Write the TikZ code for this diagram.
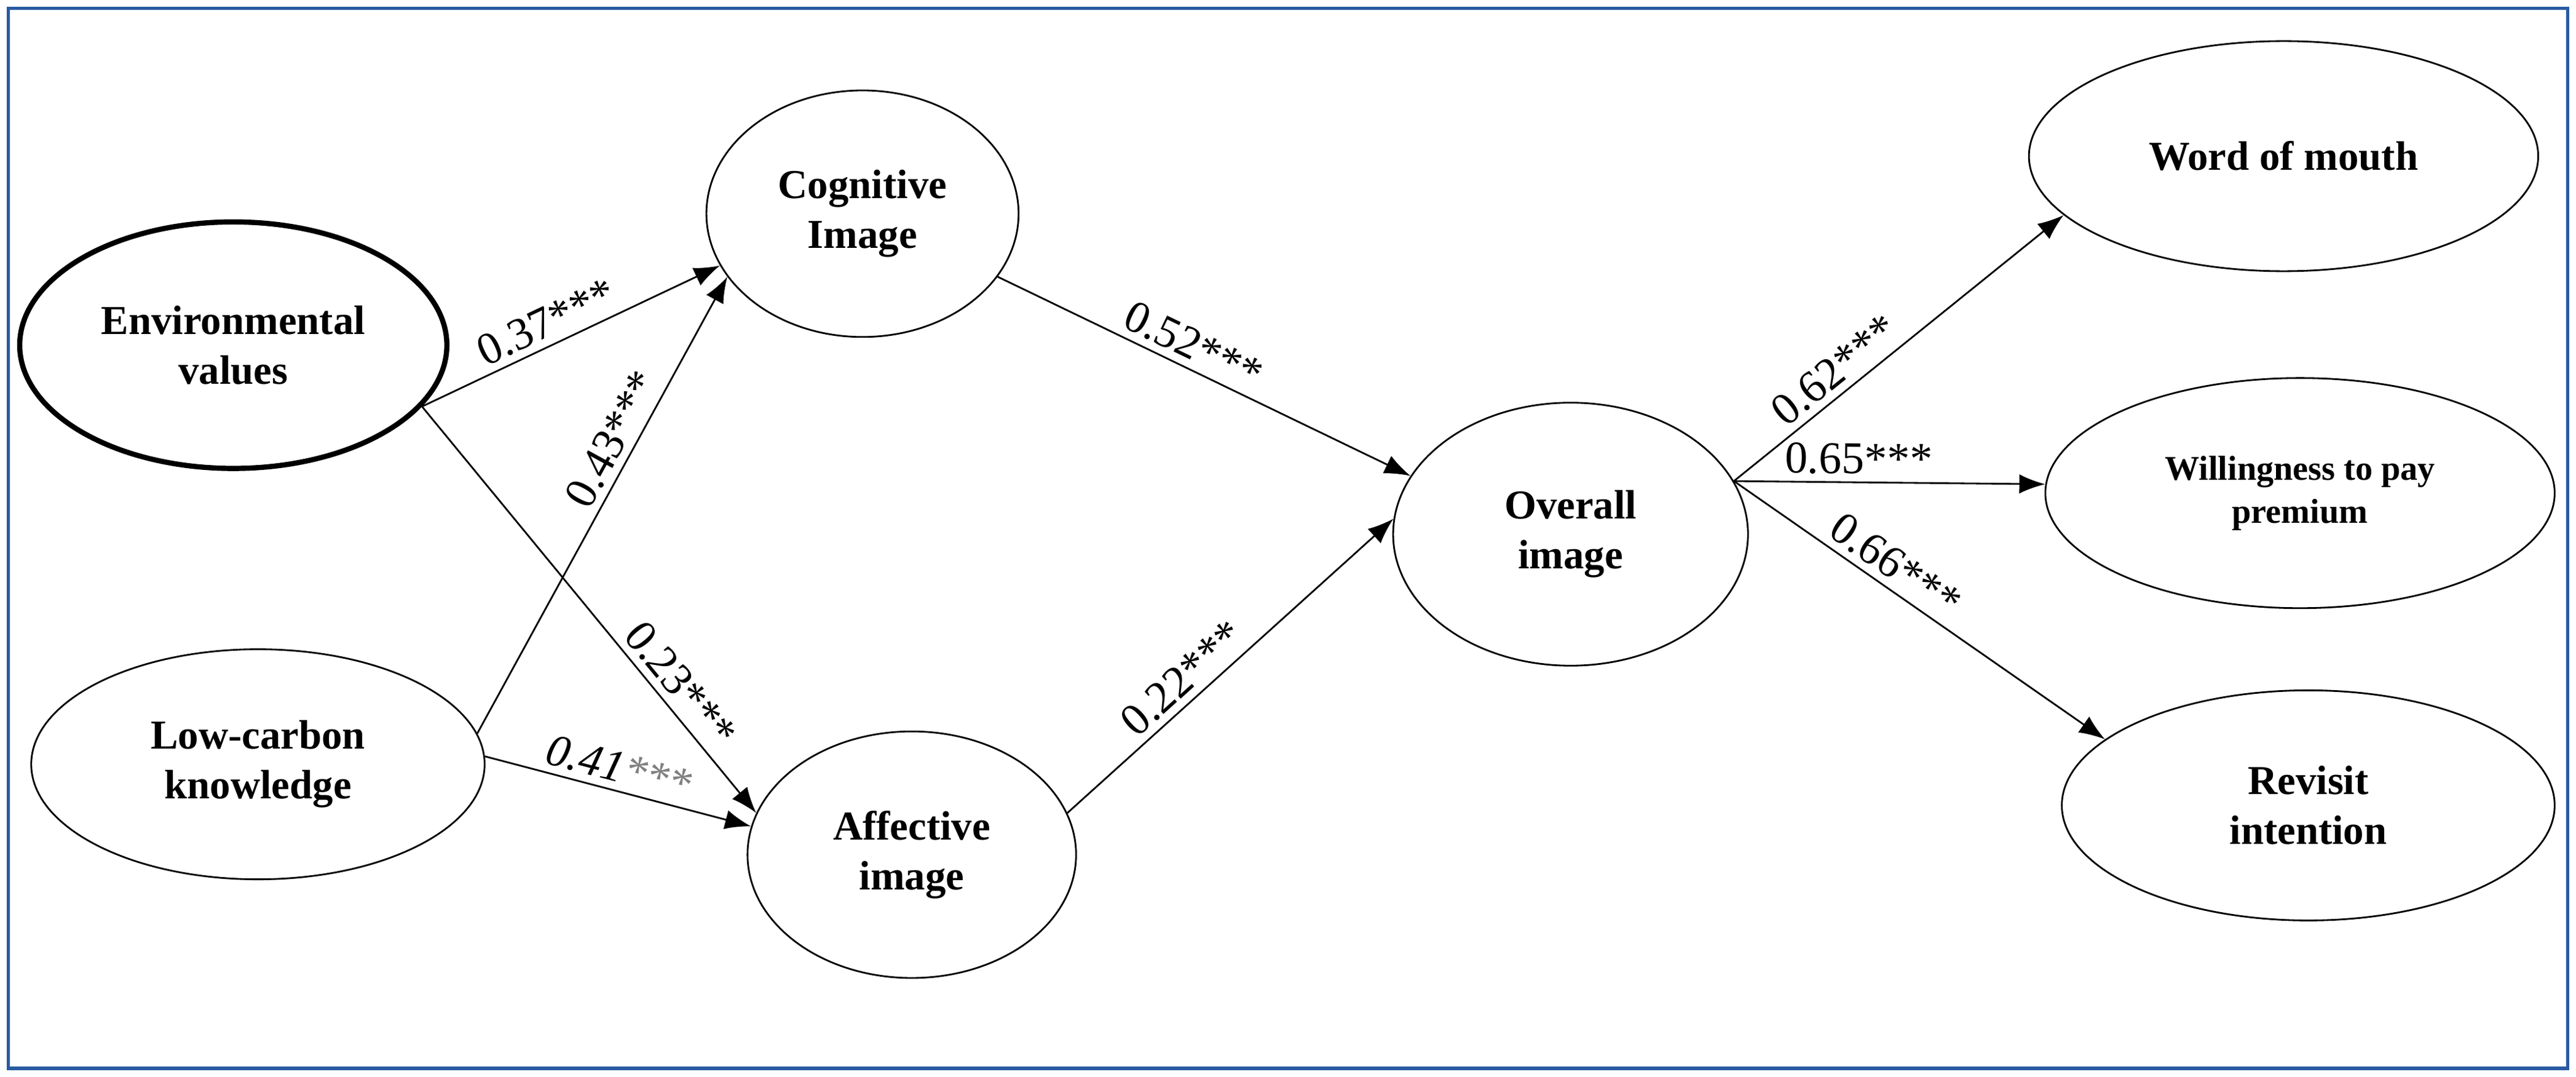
\documentclass[tikz,border=0pt]{standalone}
\usepackage{fontspec}
\setmainfont{Liberation Serif}
\usetikzlibrary{arrows.meta,shapes.geometric}
\definecolor{frameblue}{RGB}{40,90,160}
\begin{document}
\begin{tikzpicture}
[x=0.02672cm,y=-0.02672cm,
  latent/.style={shape=ellipse,draw,thick,align=center,inner sep=0pt,font=\fontsize{19}{23}\selectfont\bfseries},%
  path/.style={-{Latex[length=12pt,width=9pt]},thick},%
  coef/.style={font=\fontsize{21}{25}\selectfont,sloped,above}]
\useasboundingbox (0,0) rectangle (1568,655);
\draw[frameblue,line width=1.5pt] (5,5) rectangle (1563,650);
% latent variables
\node (env) at (142,210) [latent,line width=2.4pt,minimum width=260*0.02672cm,minimum height=150*0.02672cm] {Environmental\\values};
\node (low) at (157,465) [latent,minimum width=276*0.02672cm,minimum height=140*0.02672cm] {Low-carbon\\knowledge};
\node (cog) at (525,130) [latent,minimum width=190*0.02672cm,minimum height=150*0.02672cm] {Cognitive\\Image};
\node (aff) at (555,520) [latent,minimum width=200*0.02672cm,minimum height=150*0.02672cm] {Affective\\image};
\node (ov) at (956,325) [latent,minimum width=216*0.02672cm,minimum height=160*0.02672cm] {Overall\\image};
\node (wom) at (1390,95) [latent,minimum width=310*0.02672cm,minimum height=140*0.02672cm] {Word of mouth};
\node (wtp) at (1400,300) [latent,minimum width=310*0.02672cm,minimum height=140*0.02672cm,font=\fontsize{16}{20}\selectfont\bfseries] {Willingness to pay\\premium};
\node (rev) at (1405,490) [latent,minimum width=300*0.02672cm,minimum height=140*0.02672cm] {Revisit\\intention};
% paths
\path
(env.-18) edge[path] node[coef,pos=0.45]{0.37***} (cog.-160)
(env.-18) edge[path] node[coef,pos=0.72]{0.23***} (aff.165)
(low.8) edge[path] node[coef,pos=0.62]{0.43***} (cog.-155)
(low.2) edge[path] node[coef,pos=0.48]{\itshape 0.41\textcolor{gray}{***}} (aff.170)
(cog.-25) edge[path] node[coef,pos=0.45]{0.52***} (ov.160)
(aff.15) edge[path] node[coef,pos=0.4]{0.22***} (ov.175)
(ov.18) edge[path] node[coef,pos=0.35]{0.62***} (wom.-165)
(ov.18) edge[path] node[coef,pos=0.4]{0.65***} (wtp.178)
(ov.18) edge[path] node[coef,pos=0.4]{0.66***} (rev.162);
\end{tikzpicture}
\end{document}
